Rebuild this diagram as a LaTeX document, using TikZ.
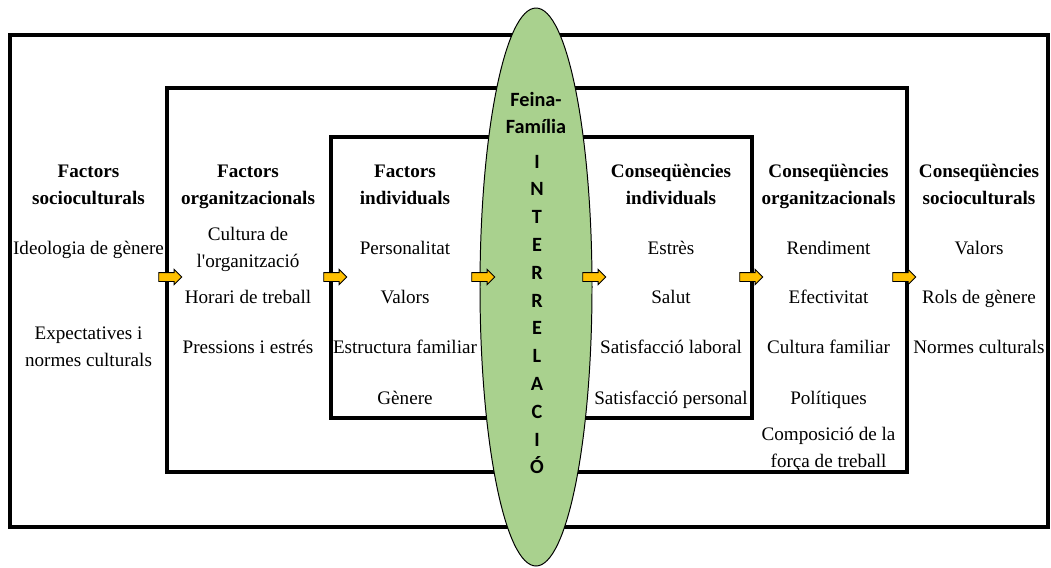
\documentclass[tikz,border=0pt]{standalone}
\usepackage{fontspec}
\setmainfont{Liberation Serif}
\newfontfamily\calibri{Carlito}
\usetikzlibrary{shapes.arrows}
\definecolor{relgreen}{HTML}{A9D18E}
\definecolor{argold}{HTML}{FFC000}
\tikzset{
  frame/.style={line width=2.2pt},
  txt/.style={inner sep=0pt, anchor=base, align=center, font=\fontsize{13.6}{19.2}\selectfont},
  head/.style={txt, font=\fontsize{13.6}{19.2}\selectfont\bfseries},
  rel/.style={inner sep=0pt, anchor=base, align=center, font=\fontsize{14.4}{18.6}\selectfont\calibri\bfseries},
  blockarrow/.style={single arrow, draw=black, fill=argold, line width=0.6pt,
    minimum height=0.575cm, minimum width=0.36cm, single arrow head extend=0.08cm, inner sep=0.1cm}
}
\begin{document}
\begin{tikzpicture}[x=0.025cm,y=-0.025cm]
\useasboundingbox (0,0) rectangle (1051,567);
% frames
\draw[frame] (10,35) rectangle (1048,527);
\draw[frame] (167,88) rectangle (907,472);
\draw[frame] (331,137) rectangle (752,418);
% interrelation
\draw[fill=relgreen, line width=0.7pt] (536,287) ellipse [x radius=56, y radius=279];
\node[rel] (feina) at (536,133) {Feina-\\Família};
\foreach \l [count=\i] in {I,N,T,E,R,R,E,L,A,C,I,Ó}
  \node[rel] (r\i) at (537,{168+27.8*(\i-1)}) {\l};
% arrows
\node[blockarrow] (a1) at (168,277) {};
\node[blockarrow] (a2) at (333,277) {};
\node[blockarrow] (a3) at (481,277) {};
\node[blockarrow] (a4) at (592,277) {};
\node[blockarrow] (a5) at (749,277) {};
\node[blockarrow] (a6) at (902,277) {};
% factors (multi-line nodes sit on their last baseline)
\node[head] (fsoc) at (88.5,204) {Factors\\socioculturals};
\node[txt] (ideo) at (88.5,254) {Ideologia de gènere};
\node[txt] (expe) at (88.5,366) {Expectatives i\\normes culturals};
\node[head] (forg) at (248,204) {Factors\\organitzacionals};
\node[txt] (cult) at (248,267) {Cultura de\\l\textquotesingle organització};
\node[txt] (hora) at (248,303) {Horari de treball};
\node[txt] (pres) at (248,353) {Pressions i estrés};
\node[head] (find) at (405,204) {Factors\\individuals};
\node[txt] (pers) at (405,254) {Personalitat};
\node[txt] (valf) at (405,303) {Valors};
\node[txt] (estr) at (405,353) {Estructura familiar};
\node[txt] (gene) at (405,404) {Gènere};
% consequences
\node[head] (cind) at (671,204) {Conseqüències\\individuals};
\node[txt] (stre) at (671,254) {Estrès};
\node[txt] (salu) at (671,303) {Salut};
\node[txt] (satl) at (671,353) {Satisfacció laboral};
\node[txt] (satp) at (671,404) {Satisfacció personal};
\node[head] (corg) at (828.5,204) {Conseqüències\\organitzacionals};
\node[txt] (rend) at (828.5,254) {Rendiment};
\node[txt] (efec) at (828.5,303) {Efectivitat};
\node[txt] (cfam) at (828.5,353) {Cultura familiar};
\node[txt] (poli) at (828.5,404) {Polítiques};
\node[txt] (comp) at (828.5,467) {Composició de la\\força de treball};
\node[head] (csoc) at (979,204) {Conseqüències\\socioculturals};
\node[txt] (valc) at (979,254) {Valors};
\node[txt] (rols) at (979,303) {Rols de gènere};
\node[txt] (norm) at (979,353) {Normes culturals};
\end{tikzpicture}
\end{document}
